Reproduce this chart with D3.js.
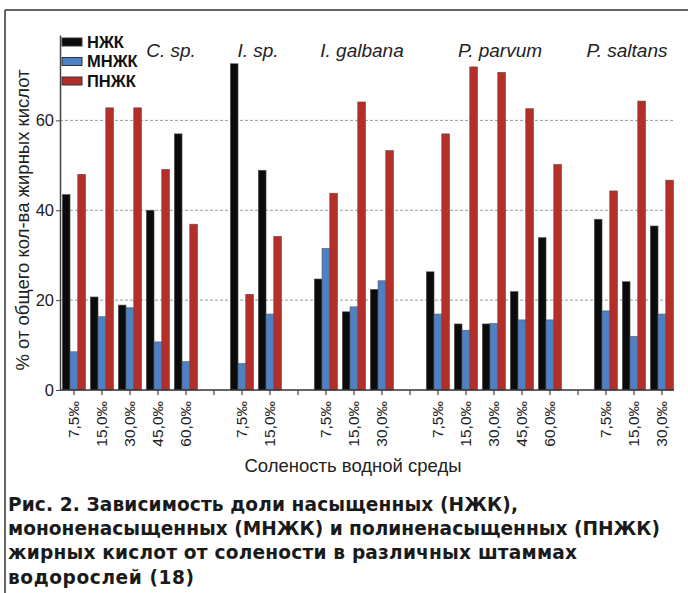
<!DOCTYPE html>
<html><head><meta charset="utf-8">
<script src="https://cdn.jsdelivr.net/npm/d3@7"></script>
<style>html,body{margin:0;padding:0;background:#fff;}svg{display:block;}</style>
</head><body>
<svg id="c" width="688" height="593"></svg>
<script>
const species = ["C. sp.", "I. sp.", "I. galbana", "P. parvum", "P. saltans"];
const salinities = [
  ["7,5‰","15,0‰","30,0‰","45,0‰","60,0‰"],
  ["7,5‰","15,0‰"],
  ["7,5‰","15,0‰","30,0‰"],
  ["7,5‰","15,0‰","30,0‰","45,0‰","60,0‰"],
  ["7,5‰","15,0‰","30,0‰"]
];
const seriesNames = ["НЖК","МНЖК","ПНЖК"];
const nzhk  = [43.5,20.7,18.9,40.0,57.0, 72.6,48.9, 24.7,17.4,22.4, 26.3,14.7,14.7,21.9,33.9, 38.0,24.1,36.5];
const mnzhk = [8.5,16.3,18.3,10.7,6.3, 5.9,16.9, 31.5,18.5,24.3, 16.9,13.3,14.8,15.6,15.6, 17.6,11.9,16.9];
const pnzhk = [48.0,62.8,62.8,49.1,36.9, 21.3,34.2, 43.8,64.1,53.3, 57.0,71.9,70.7,62.6,50.2, 44.3,64.3,46.7];
const yTicks = [0,20,40,60];
const colors = ["#0b0b0b","#4d80c4","#b3302a"];
const yTitle = "% от общего кол-ва жирных кислот";
const xTitle = "Соленость водной среды";
const caption = [
  "Рис. 2. Зависимость доли насыщенных (НЖК),",
  "мононенасыщенных (МНЖК) и полиненасыщенных (ПНЖК)",
  "жирных кислот от солености в различных штаммах",
  "водорослей (18)"
];

const svg = d3.select("#c");
const seriesVals = [nzhk, mnzhk, pnzhk];
const sans = "'Liberation Sans', Arial, sans-serif";

// build slots
const slots = [];
let k = 0;
salinities.forEach((arr, g) => {
  arr.forEach((s, j) => { slots.push({key: "g"+g+"_"+j, label: s, idx: k++, group: g}); });
  if (g < salinities.length - 1) slots.push({key: "sep"+g, label: "", idx: -1, group: g});
});

const x = d3.scaleBand().domain(slots.map(d => d.key)).range([60, 676]).padding(0);
const xi = d3.scaleBand().domain(seriesNames).range([2.3, 25.5]).padding(0);
const y = d3.scaleLinear().domain([0, 79]).range([390, 35]);

// frame
svg.append("line").attr("x1",5).attr("x2",688).attr("y1",10).attr("y2",10).attr("stroke","#333").attr("stroke-width",1.5);
svg.append("line").attr("x1",5).attr("x2",5).attr("y1",10).attr("y2",593).attr("stroke","#333").attr("stroke-width",1.5);

// gridlines
svg.append("g").selectAll("line").data(yTicks.filter(t => t > 0)).join("line")
  .attr("x1", 60).attr("x2", 674).attr("y1", d => y(d)).attr("y2", d => y(d))
  .attr("stroke", "#9a9a9a").attr("stroke-width", 1).attr("stroke-dasharray", "3,2");

// bars
const bars = [];
slots.filter(s => s.idx >= 0).forEach(s => {
  seriesNames.forEach((n, si) => bars.push({slot: s.key, series: n, si, v: seriesVals[si][s.idx]}));
});
svg.append("g").selectAll("rect").data(bars).join("rect")
  .attr("x", d => x(d.slot) + xi(d.series))
  .attr("width", xi.bandwidth())
  .attr("y", d => y(d.v))
  .attr("height", d => y(0) - y(d.v))
  .attr("fill", d => colors[d.si])
  .attr("stroke", "#555").attr("stroke-width", 0.6);

// y axis
const yAxis = svg.append("g").attr("transform", "translate(60,0)")
  .call(d3.axisLeft(y).tickValues(yTicks).tickSize(4).tickSizeOuter(0));
yAxis.select(".domain").attr("stroke", "#444").attr("stroke-width", 1.5);
yAxis.selectAll(".tick line").attr("stroke", "#444");
yAxis.selectAll(".tick text").attr("font-family", sans).attr("font-size", 16.5).attr("fill", "#222").attr("x", -6);

// x axis
const labelMap = new Map(slots.map(s => [s.key, s.label]));
const xAxis = svg.append("g").attr("transform", "translate(0,390)")
  .call(d3.axisBottom(x).tickFormat(d => labelMap.get(d)).tickSize(5).tickSizeOuter(0));
xAxis.select(".domain").attr("stroke", "#333").attr("stroke-width", 1.5).attr("d", "M60,0H674");
xAxis.selectAll(".tick line").attr("stroke", "#444").attr("stroke-width", 1.2);
xAxis.selectAll(".tick text")
  .attr("font-family", sans).attr("font-size", 15.5).attr("fill", "#222")
  .attr("transform", "rotate(-90)")
  .attr("text-anchor", "end").attr("x", -11).attr("y", 0).attr("dy", "0.35em");

// y title
svg.append("text").attr("transform", "translate(29,220) rotate(-90)")
  .attr("text-anchor", "middle").attr("font-family", sans)
  .attr("font-size", 18.5).attr("fill", "#222").text(yTitle);

// x title
svg.append("text").attr("x", 353).attr("y", 472).attr("text-anchor", "middle")
  .attr("font-family", sans).attr("font-size", 18.5).attr("fill", "#222").text(xTitle);

// species labels
const labelShift = [41, 2, 8, 6, -7];
species.forEach((sp, g) => {
  const gs = slots.filter(s => s.group === g && s.idx >= 0);
  const cx = (x(gs[0].key) + x(gs[gs.length-1].key) + x.bandwidth()) / 2;
  svg.append("text").attr("x", cx + labelShift[g]).attr("y", 57).attr("text-anchor", "middle")
    .attr("font-family", sans).attr("font-style", "italic")
    .attr("font-size", 19).attr("fill", "#222").text(sp);
});

// legend
const lg = svg.append("g");
seriesNames.forEach((n, i) => {
  const cy = 42 + i * 19.5;
  lg.append("rect").attr("x", 62).attr("y", cy - 4).attr("width", 20).attr("height", 8)
    .attr("fill", colors[i]).attr("stroke", "#333").attr("stroke-width", 1);
  lg.append("text").attr("x", 87).attr("y", cy).attr("dy", "0.36em")
    .attr("font-family", sans).attr("font-weight", "bold")
    .attr("font-size", 16.5).attr("fill", "#111").text(n);
});

// caption
const cap = svg.append("g");
const capFont = "'DejaVu Sans', sans-serif";
const capEnds = [518, 660, 577, 194];
let fs = 19;
const lines = caption.map((t, i) => cap.append("text").attr("x", 8).attr("y", 511 + i * 24.2)
  .attr("font-family", capFont).attr("font-weight", "bold").attr("font-size", fs).attr("fill", "#1a1a1a").text(t));
const w = lines[1].node().getComputedTextLength();
fs = fs * 652 / w;
lines.forEach((l, i) => {
  l.attr("font-size", fs);
  l.attr("textLength", capEnds[i] - 8).attr("lengthAdjust", "spacing");
});
</script>
</body></html>
